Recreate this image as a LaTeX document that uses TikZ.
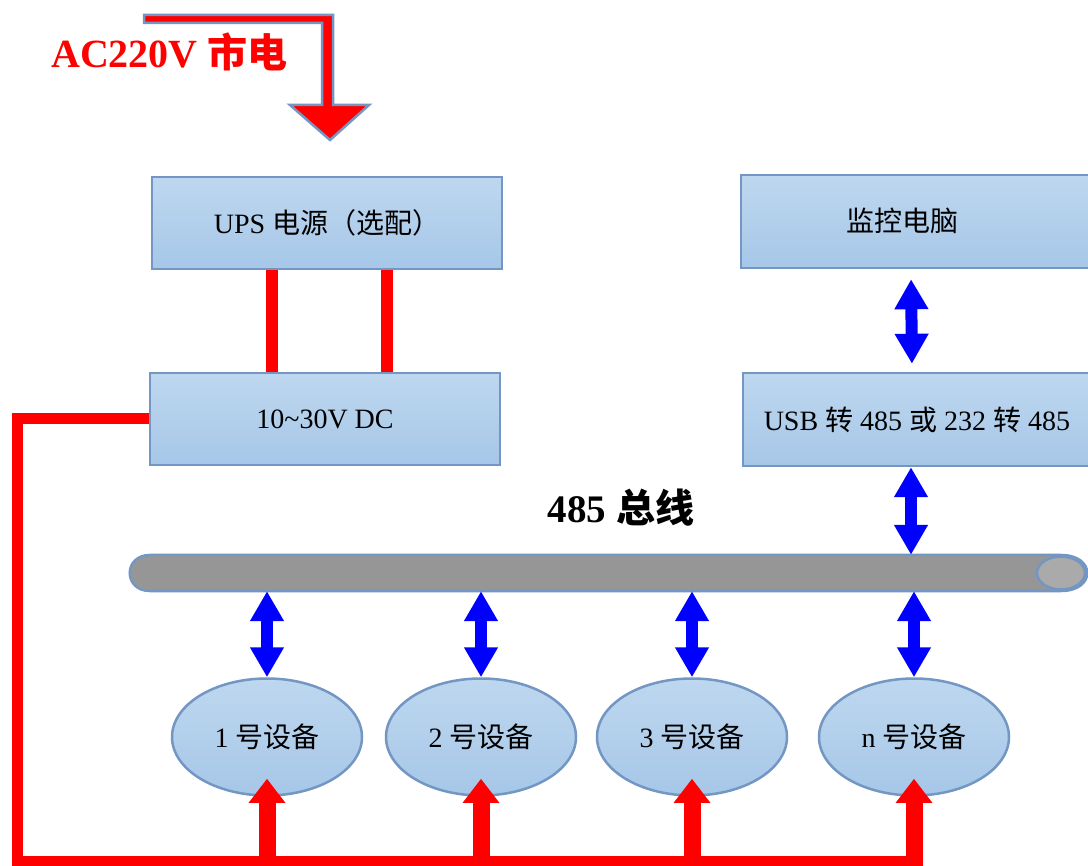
\documentclass[tikz,border=0pt]{standalone}
\usepackage{fontspec}
\setmainfont{Liberation Serif}
\newfontfamily\cjk{Noto Sans CJK SC}
\usetikzlibrary{arrows.meta,shapes.geometric}
\definecolor{boxtop}{RGB}{190,215,239}
\definecolor{boxbot}{RGB}{166,199,232}
\definecolor{edge}{RGB}{115,150,195}
\definecolor{busgray}{RGB}{150,150,150}
\definecolor{facegray}{RGB}{170,170,170}
\begin{document}
\begin{tikzpicture}[x=1pt,y=-1pt,
  box/.style={rectangle, draw=edge, line width=2.5pt, top color=boxtop, bottom color=boxbot, inner sep=0pt, font=\fontsize{28}{32}\selectfont},
  dev/.style={ellipse, draw=edge, line width=2.5pt, top color=boxtop, bottom color=boxbot, minimum width=190, minimum height=117, inner sep=0pt, font=\fontsize{28}{32}\selectfont},
  lbl/.style={font=\fontsize{28}{32}\selectfont, inner sep=0pt},
  dbl/.style={draw=blue, line width=12pt, {Triangle[width=32pt,length=30pt]}-{Triangle[width=32pt,length=30pt]}},
  pwr/.style={draw=red, line width=11pt},
  upsline/.style={draw=red, line width=12pt},
  uparrow/.style={draw=red, line width=17pt, -{Triangle[width=35pt,length=24pt]}, shorten >=-18pt, shorten <=-5pt},
]
\fill[white] (0,0) rectangle (1088,866);
\useasboundingbox (0,0) rectangle (1088,866);

% AC input arrow
\filldraw[fill=red, draw=edge, line width=2.5pt, line join=miter]
  (144,15) -- (333,15) -- (333,105) -- (369,105) -- (330,140) -- (290,105) -- (322,105) -- (322,23) -- (144,23) -- cycle;
\node[text=red, font=\fontsize{40}{46}\selectfont\bfseries, anchor=west, inner sep=0pt] (ac) at (51,52) {AC220V {\cjk 市电}};

% boxes
\node[box, minimum width=350, minimum height=92] (ups) at (327,223) {UPS {\cjk 电源（选配）}};
\node[box, minimum width=350, minimum height=92] (dc) at (325,419) {10\textasciitilde 30V DC};
\node[box, minimum width=350, minimum height=93] (pc) at (916,221.5) {};
\node[lbl] (pctext) at (902,221) {\cjk 监控电脑};
\node[box, minimum width=348, minimum height=93] (usb) at (917,419.5) {USB {\cjk 转} 485 {\cjk 或} 232 {\cjk 转} 485};

% UPS to DC lines
\draw[upsline] ([xshift=-55]ups.south) -- ([xshift=-55]ups.south |- dc.north);
\draw[upsline] ([xshift=60]ups.south) -- ([xshift=60]ups.south |- dc.north);

% bus label
\node[font=\fontsize{39}{45}\selectfont\bfseries, inner sep=0pt] (buslbl) at (621,508) {485 {\cjk 总线}};

% bus cylinder
\filldraw[fill=busgray, draw=edge, line width=2.5pt]
  (150,555) -- (1061,555) .. controls (1096,555) and (1096,591) .. (1061,591)
  -- (150,591) .. controls (123,591) and (123,555) .. (150,555) -- cycle;
\node[ellipse, fill=facegray, draw=edge, line width=2.5pt, minimum width=48, minimum height=33, inner sep=0pt] (busend) at (1061,573) {};
\node[inner sep=0pt, minimum width=957, minimum height=36] (bus) at (608.5,573) {};

% devices
\node[dev] (d1) at (267,737) {1 {\cjk 号设备}};
\node[dev] (d2) at (481,737) {2 {\cjk 号设备}};
\node[dev] (d3) at (692,737) {3 {\cjk 号设备}};
\node[dev] (dn) at (914,737) {n {\cjk 号设备}};

% blue data arrows
\draw[dbl, shorten <=10pt, shorten >=8pt] ([xshift=-5]pc.south) -- ([xshift=-5]usb.north);
\draw[dbl] ([xshift=-6]usb.south) -- ([xshift=-6]usb.south |- bus.north);
\draw[dbl] (d1.north |- bus.south) -- (d1.north);
\draw[dbl] (d2.north |- bus.south) -- (d2.north);
\draw[dbl] (d3.north |- bus.south) -- (d3.north);
\draw[dbl] (dn.north |- bus.south) -- (dn.north);

% power distribution
\coordinate (cl) at (17,861);
\draw[pwr] (dc.west) -- (dc.west -| cl) -- (cl) -- (dn.south |- cl);
\draw[uparrow] (d1.south |- cl) -- (d1.south);
\draw[uparrow] (d2.south |- cl) -- (d2.south);
\draw[uparrow] (d3.south |- cl) -- (d3.south);
\draw[uparrow] (dn.south |- cl) -- (dn.south);
\end{tikzpicture}
\end{document}
